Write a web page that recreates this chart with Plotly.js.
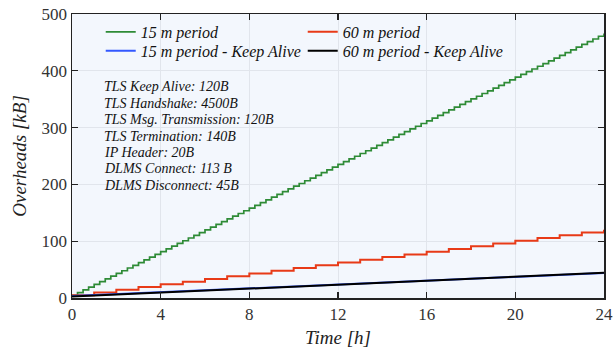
<!DOCTYPE html>
<html>
<head>
<meta charset="utf-8">
<script src="https://cdn.plot.ly/plotly-3.0.1.min.js"></script>
<style>html,body{margin:0;padding:0;background:#fff;}#chart{width:613px;height:354px;}</style>
</head>
<body>
<div id="chart"></div>
<script>
// Cumulative overheads [kB], one value per connection period
const period15Values = [4.8, 9.6, 14.4, 19.2, 24, 28.8, 33.6, 38.4, 43.2, 48, 52.8, 57.6, 62.4, 67.2, 72, 76.8, 81.6, 86.4, 91.2, 96, 100.8, 105.6, 110.4, 115.2, 120, 124.8, 129.6, 134.4, 139.2, 144, 148.8, 153.6, 158.4, 163.2, 168, 172.8, 177.6, 182.4, 187.2, 192, 196.8, 201.6, 206.4, 211.2, 216, 220.8, 225.6, 230.4, 235.2, 240, 244.8, 249.6, 254.4, 259.2, 264, 268.8, 273.6, 278.4, 283.2, 288, 292.8, 297.6, 302.4, 307.2, 312, 316.8, 321.6, 326.4, 331.2, 336, 340.8, 345.6, 350.4, 355.2, 360, 364.8, 369.6, 374.4, 379.2, 384, 388.8, 393.6, 398.4, 403.2, 408, 412.8, 417.6, 422.4, 427.2, 432, 436.8, 441.6, 446.4, 451.2, 456, 460.8, 465.6];
const period60Values = [4.8, 9.6, 14.4, 19.2, 24, 28.8, 33.6, 38.4, 43.2, 48, 52.8, 57.6, 62.4, 67.2, 72, 76.8, 81.6, 86.4, 91.2, 96, 100.8, 105.6, 110.4, 115.2, 120];
const keepAlive15Values = [3.5, 44];
const keepAlive60Values = [2.5, 44.5];
const seriesNames = ["15 m period", "60 m period", "15 m period - Keep Alive", "60 m period - Keep Alive"];
const xTicks = [0, 4, 8, 12, 16, 20, 24];
const yTicks = [0, 100, 200, 300, 400, 500];
const infoLines = ["TLS Keep Alive: 120B", "TLS Handshake: 4500B", "TLS Msg. Transmission: 120B", "TLS Termination: 140B", "IP Header: 20B", "DLMS Connect: 113 B", "DLMS Disconnect: 45B"];

const serif = "'Liberation Serif', 'Times New Roman', serif";
const traces = [
  {y: period15Values, x0: 0, dx: 0.25, type: "scatter", mode: "lines", line: {color: "#2e8b36", width: 1.7, shape: "hv"}, name: seriesNames[0], legend: "legend"},
  {y: period60Values, x0: 0, dx: 1, type: "scatter", mode: "lines", line: {color: "#e83a17", width: 2, shape: "hv"}, name: seriesNames[1], legend: "legend"},
  {y: keepAlive15Values, x0: 0, dx: 24, type: "scatter", mode: "lines", line: {color: "#3358ff", width: 2}, name: seriesNames[2], legend: "legend2"},
  {y: keepAlive60Values, x0: 0, dx: 24, type: "scatter", mode: "lines", line: {color: "#000000", width: 2}, name: seriesNames[3], legend: "legend2"}
];
const axisCommon = {
  showline: true, linecolor: "#222", linewidth: 1.5, mirror: "allticks",
  ticks: "inside", ticklen: 6, tickwidth: 1.2, tickcolor: "#222",
  showgrid: true, gridcolor: "#e1e5ec", gridwidth: 1, zeroline: false,
  ticklabeloverflow: "allow",
  tickfont: {family: serif, size: 17, color: "#333"}
};
const legendCommon = {orientation: "h", xanchor: "left", yanchor: "middle",
  entrywidth: 157, entrywidthmode: "pixels", bgcolor: "rgba(0,0,0,0)",
  font: {family: serif, size: 16, color: "#111", style: "italic"}, traceorder: "normal"};
const annY0 = 0.743, annStep = 0.0577;
const layout = {
  width: 613, height: 354,
  margin: {l: 72, r: 9, t: 14, b: 56},
  paper_bgcolor: "#ffffff", plot_bgcolor: "#f3f7fd",
  showlegend: true,
  legend: Object.assign({}, legendCommon, {x: 0.054, y: 0.937}),
  legend2: Object.assign({}, legendCommon, {x: 0.054, y: 0.870}),
  xaxis: Object.assign({}, axisCommon, {range: [0, 24], tickvals: xTicks,
    title: {text: "Time [h]", font: {family: serif, size: 19, color: "#222", style: "italic"}, standoff: 8}}),
  yaxis: Object.assign({}, axisCommon, {range: [0, 500], tickvals: yTicks,
    title: {text: "Overheads [kB]", font: {family: serif, size: 19, color: "#222", style: "italic"}, standoff: 10}}),
  annotations: infoLines.map((t, i) => ({
    xref: "paper", yref: "paper", x: 0.056, y: annY0 - i * annStep, xanchor: "left", yanchor: "middle",
    align: "left", showarrow: false, text: t,
    font: {family: serif, size: 14, color: "#111", style: "italic"}
  }))
};
Plotly.newPlot("chart", traces, layout, {displayModeBar: false, staticPlot: true});
</script>
</body>
</html>
